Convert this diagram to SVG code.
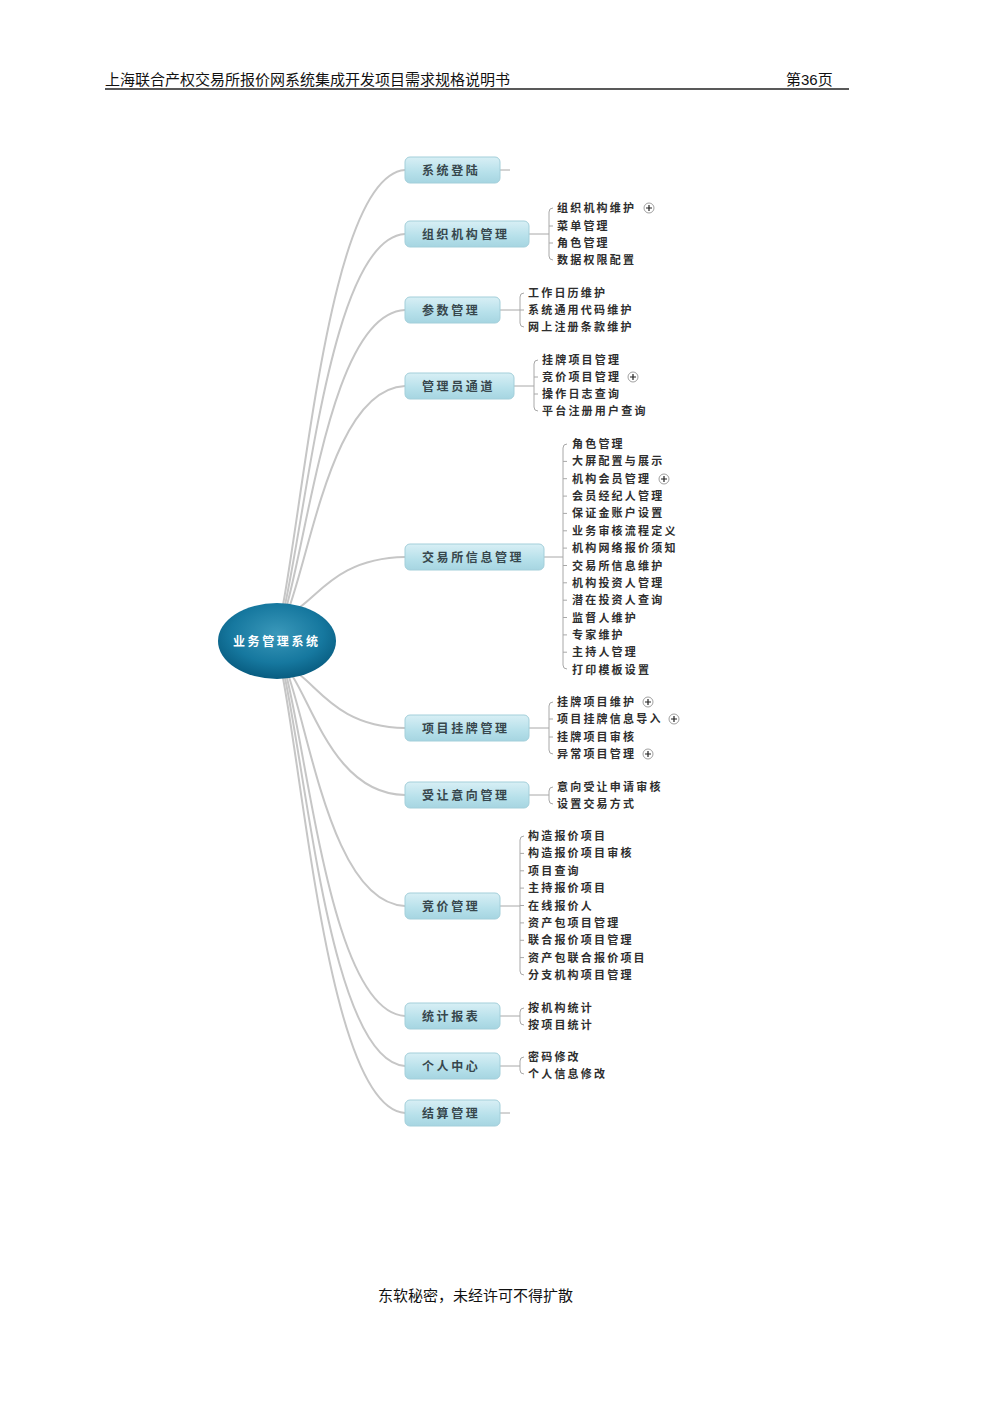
<svg xmlns="http://www.w3.org/2000/svg" width="1000" height="1415" viewBox="0 0 1000 1415">
<style>
.hdr{font-family:"Liberation Sans","Noto Sans CJK SC",sans-serif;font-size:15px;fill:#111}
.conn{fill:none;stroke:#c6c6c6;stroke-width:2;stroke-linecap:round}
.br{fill:none;stroke:#a8a8a8;stroke-width:1}
.box{fill:url(#boxg);stroke:#a3cfda;stroke-width:1}
.nt{font-family:"Noto Sans CJK SC",sans-serif;font-size:12px;font-weight:bold;fill:#37474d;letter-spacing:2.6px}
.ct{font-family:"Noto Sans CJK SC",sans-serif;font-size:11px;font-weight:bold;fill:#2e2e2e;letter-spacing:2.2px}
.rt{font-family:"Noto Sans CJK SC",sans-serif;font-size:12px;font-weight:bold;fill:#fff;letter-spacing:2.6px}
.pl{fill:#fff;stroke:#888;stroke-width:0.8}
.pc{stroke:#222;stroke-width:1.2}
</style>
<defs>
<linearGradient id="boxg" x1="0" y1="0" x2="0" y2="1">
<stop offset="0" stop-color="#d8eff5"/>
<stop offset="0.6" stop-color="#b6e0ea"/>
<stop offset="1" stop-color="#a6d5e1"/>
</linearGradient>
<radialGradient id="rootg" cx="0.5" cy="0.4" r="0.6">
<stop offset="0" stop-color="#3a98ba"/>
<stop offset="0.65" stop-color="#16789f"/>
<stop offset="1" stop-color="#085c80"/>
</radialGradient>
<g id="plus"><circle r="5" class="pl"/><path d="M-3,0H3M0,-3V3" class="pc"/></g>
</defs>
<rect width="1000" height="1415" fill="#fff"/>

<g id="header">
<text class="hdr" x="105" y="85">上海联合产权交易所报价网系统集成开发项目需求规格说明书</text>
<text class="hdr" x="786" y="85">第36页</text>
<line x1="105" y1="89" x2="849" y2="89" stroke="#222" stroke-width="1.5"/>
</g>

<g id="connectors">
<path class="conn" d="M283,605 C307,474 332,175 405,170"/>
<path class="conn" d="M285,605 C309,494 333,238 405,234"/>
<path class="conn" d="M287,605 C311,516 334,313 405,310"/>
<path class="conn" d="M290,605 C313,539 336,389 405,386"/>
<path class="conn" d="M300,607 C321,592 342,558 405,557"/>
<path class="conn" d="M300,675 C321,691 342,727 405,728"/>
<path class="conn" d="M293,677 C315,712 338,794 405,795"/>
<path class="conn" d="M289,677 C312,746 335,903 405,906"/>
<path class="conn" d="M287,678 C311,779 334,1012 405,1016"/>
<path class="conn" d="M285,678 C309,794 333,1061 405,1066"/>
<path class="conn" d="M283,678 C307,808 332,1108 405,1113"/>
<path class="br" d="M500,170H510"/>
<path class="br" d="M529,234H549M553,208Q549,208 549,212V256Q549,260 553,260M549,226h4M549,243h4"/>
<path class="br" d="M500,310H520M524,293Q520,293 520,297V323Q520,327 524,327M520,310h4"/>
<path class="br" d="M514,386H534M538,360Q534,360 534,364V407Q534,411 538,411M534,377h4M534,394h4"/>
<path class="br" d="M544,557H563M567,444Q563,444 563,448V665Q563,669 567,669M563,461.4h4M563,478.7h4M563,496.1h4M563,513.4h4M563,530.8h4M563,548.1h4M563,565.5h4M563,582.8h4M563,600.2h4M563,617.5h4M563,634.9h4M563,652.2h4"/>
<path class="br" d="M529,728H549M553,702Q549,702 549,706V750Q549,754 553,754M549,719h4M549,737h4"/>
<path class="br" d="M529,795H549M553,787Q549,787 549,791V800Q549,804 553,804"/>
<path class="br" d="M500,906H520M524,836Q520,836 520,840V971Q520,975 524,975M520,853.4h4M520,870.8h4M520,888.1h4M520,905.5h4M520,922.9h4M520,940.3h4M520,957.6h4"/>
<path class="br" d="M500,1016H520M524,1008Q520,1008 520,1012V1021Q520,1025 524,1025"/>
<path class="br" d="M500,1066H520M524,1057Q520,1057 520,1061V1070Q520,1074 524,1074"/>
<path class="br" d="M500,1113H510"/>
</g>

<g id="root">
<ellipse cx="277" cy="641" rx="59" ry="38" fill="url(#rootg)"/>
<text class="rt" x="233" y="645.5">业务管理系统</text>
</g>

<g id="n1"><rect class="box" x="405" y="157" width="95" height="26" rx="5"/><text class="nt" x="422" y="174.5">系统登陆</text></g>

<g id="n2"><rect class="box" x="405" y="221" width="124" height="26" rx="5"/><text class="nt" x="422" y="238.5">组织机构管理</text>
<g class="kids"><text class="ct" x="557" y="212">组织机构维护</text><text class="ct" x="557" y="230">菜单管理</text><text class="ct" x="557" y="247">角色管理</text><text class="ct" x="557" y="264">数据权限配置</text></g>
<use href="#plus" x="649" y="208"/></g>

<g id="n3"><rect class="box" x="405" y="297" width="95" height="26" rx="5"/><text class="nt" x="422" y="314.5">参数管理</text>
<g class="kids"><text class="ct" x="528" y="297">工作日历维护</text><text class="ct" x="528" y="314">系统通用代码维护</text><text class="ct" x="528" y="331">网上注册条款维护</text></g></g>

<g id="n4"><rect class="box" x="405" y="373" width="109" height="26" rx="5"/><text class="nt" x="422" y="390.5">管理员通道</text>
<g class="kids"><text class="ct" x="542" y="364">挂牌项目管理</text><text class="ct" x="542" y="381">竞价项目管理</text><text class="ct" x="542" y="398">操作日志查询</text><text class="ct" x="542" y="415">平台注册用户查询</text></g>
<use href="#plus" x="633" y="377"/></g>

<g id="n5"><rect class="box" x="405" y="544" width="139" height="26" rx="5"/><text class="nt" x="422" y="561.5">交易所信息管理</text>
<g class="kids">
<text class="ct" x="572" y="448">角色管理</text>
<text class="ct" x="572" y="465.4">大屏配置与展示</text>
<text class="ct" x="572" y="482.7">机构会员管理</text>
<text class="ct" x="572" y="500.1">会员经纪人管理</text>
<text class="ct" x="572" y="517.4">保证金账户设置</text>
<text class="ct" x="572" y="534.8">业务审核流程定义</text>
<text class="ct" x="572" y="552.1">机构网络报价须知</text>
<text class="ct" x="572" y="569.5">交易所信息维护</text>
<text class="ct" x="572" y="586.8">机构投资人管理</text>
<text class="ct" x="572" y="604.2">潜在投资人查询</text>
<text class="ct" x="572" y="621.5">监督人维护</text>
<text class="ct" x="572" y="638.9">专家维护</text>
<text class="ct" x="572" y="656.2">主持人管理</text>
<text class="ct" x="572" y="673.6">打印模板设置</text>
</g>
<use href="#plus" x="664" y="479"/></g>

<g id="n6"><rect class="box" x="405" y="715" width="124" height="26" rx="5"/><text class="nt" x="422" y="732.5">项目挂牌管理</text>
<g class="kids"><text class="ct" x="557" y="706">挂牌项目维护</text><text class="ct" x="557" y="723">项目挂牌信息导入</text><text class="ct" x="557" y="741">挂牌项目审核</text><text class="ct" x="557" y="758">异常项目管理</text></g>
<use href="#plus" x="648" y="702"/><use href="#plus" x="674" y="719"/><use href="#plus" x="648" y="754"/></g>

<g id="n7"><rect class="box" x="405" y="782" width="124" height="26" rx="5"/><text class="nt" x="422" y="799.5">受让意向管理</text>
<g class="kids"><text class="ct" x="557" y="791">意向受让申请审核</text><text class="ct" x="557" y="808">设置交易方式</text></g></g>

<g id="n8"><rect class="box" x="405" y="893" width="95" height="26" rx="5"/><text class="nt" x="422" y="910.5">竞价管理</text>
<g class="kids">
<text class="ct" x="528" y="840">构造报价项目</text>
<text class="ct" x="528" y="857.4">构造报价项目审核</text>
<text class="ct" x="528" y="874.8">项目查询</text>
<text class="ct" x="528" y="892.1">主持报价项目</text>
<text class="ct" x="528" y="909.5">在线报价人</text>
<text class="ct" x="528" y="926.9">资产包项目管理</text>
<text class="ct" x="528" y="944.3">联合报价项目管理</text>
<text class="ct" x="528" y="961.6">资产包联合报价项目</text>
<text class="ct" x="528" y="979">分支机构项目管理</text>
</g></g>

<g id="n9"><rect class="box" x="405" y="1003" width="95" height="26" rx="5"/><text class="nt" x="422" y="1020.5">统计报表</text>
<g class="kids"><text class="ct" x="528" y="1012">按机构统计</text><text class="ct" x="528" y="1029">按项目统计</text></g></g>

<g id="n10"><rect class="box" x="405" y="1053" width="95" height="26" rx="5"/><text class="nt" x="422" y="1070.5">个人中心</text>
<g class="kids"><text class="ct" x="528" y="1061">密码修改</text><text class="ct" x="528" y="1078">个人信息修改</text></g></g>

<g id="n11"><rect class="box" x="405" y="1100" width="95" height="26" rx="5"/><text class="nt" x="422" y="1117.5">结算管理</text></g>

<g id="footer"><text class="hdr" x="378" y="1301">东软秘密，未经许可不得扩散</text></g>
</svg>
